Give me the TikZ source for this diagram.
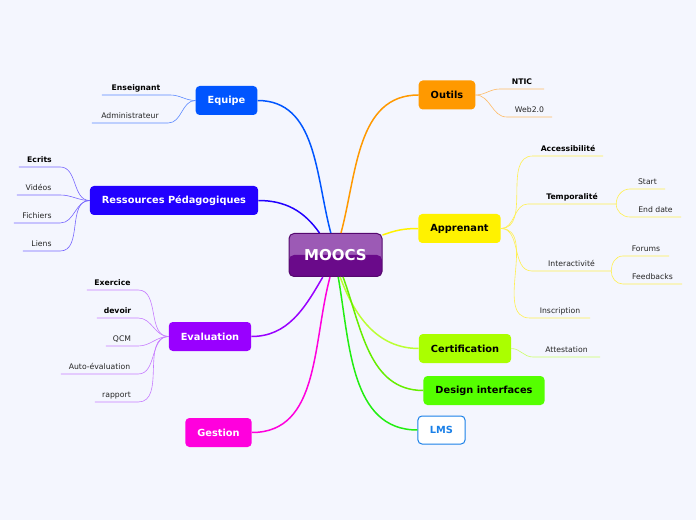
\documentclass[tikz,border=0pt]{standalone}
\usepackage{fontspec}
\setmainfont{DejaVu Sans}
\definecolor{bgcol}{HTML}{F4F6FE}
\definecolor{equipecol}{HTML}{0055FF}
\definecolor{equipeleaf}{HTML}{5A88FF}
\definecolor{rescol}{HTML}{2200FF}
\definecolor{resleaf}{HTML}{7766FF}
\definecolor{evalcol}{HTML}{9900FF}
\definecolor{evalleaf}{HTML}{C77DFF}
\definecolor{gestcol}{HTML}{FF00DD}
\definecolor{outcol}{HTML}{FF9900}
\definecolor{outleaf}{HTML}{FFBB66}
\definecolor{appcol}{HTML}{FFF200}
\definecolor{appleaf}{HTML}{FFF050}
\definecolor{certcol}{HTML}{AAFF00}
\definecolor{certline}{HTML}{BBFF33}
\definecolor{certleaf}{HTML}{CCFF66}
\definecolor{designcol}{HTML}{55FF00}
\definecolor{designline}{HTML}{66EE00}
\definecolor{lmscol}{HTML}{1A80E8}
\definecolor{lmsline}{HTML}{22EE11}
\definecolor{mooctop}{HTML}{9C5AB5}
\definecolor{mooclow}{HTML}{6A0A8A}
\definecolor{moocrim}{HTML}{55086F}
\begin{document}
\begin{tikzpicture}[x=1pt,y=1pt,
  topic/.style={rounded corners=4pt,minimum height=29pt,inner xsep=12pt,font=\fontsize{9.8}{11}\selectfont\bfseries,text=white},
  leaf/.style={anchor=south,inner xsep=0pt,inner ysep=3pt,text height=5.8pt,text depth=1.6pt,font=\fontsize{7.7}{9}\selectfont,text=black!85},
  bleaf/.style={leaf,font=\fontsize{7.7}{9}\selectfont\bfseries,text=black},
  branch/.style={line width=1.5pt},
  twig/.style={line width=0.6pt}]
\fill[bgcol] (0,0) rectangle (696,520);
% centre
\node[draw=moocrim,line width=1pt,fill=mooctop,rounded corners=5pt,minimum width=93pt,minimum height=43pt,
  font=\fontsize{15}{17}\selectfont\bfseries,text=white,
  path picture={\fill[mooclow] (path picture bounding box.west) rectangle (path picture bounding box.south east);}]
  (moocs) at (335.5,265) {MOOCS};
% topics
\node[topic,fill=equipecol] (equipe) at (226.5,419.5) {Equipe};
\node[topic,fill=rescol] (ressources) at (174,319.5) {Ressources Pédagogiques};
\node[topic,fill=evalcol] (evaluation) at (210,183.5) {Evaluation};
\node[topic,fill=gestcol] (gestion) at (218.5,87.5) {Gestion};
\node[topic,fill=outcol,text=black] (outils) at (447,425) {Outils};
\node[topic,fill=appcol,text=black] (apprenant) at (459.5,291.5) {Apprenant};
\node[topic,fill=certcol,text=black] (certif) at (465,171.5) {Certification};
\node[topic,fill=designcol,text=black] (design) at (484,129.5) {Design interfaces};
\node[topic,fill=white,draw=lmscol,line width=1pt,text=lmscol,minimum height=28pt] (lms) at (441.5,90) {LMS};
\draw[branch,equipecol] (moocs.102) to[out=105,in=0] (equipe.east);
\draw[branch,rescol] (moocs.126) to[out=125,in=0] (ressources.east);
\draw[branch,outcol] (moocs.76) to[out=75,in=180] (outils.west);
\draw[branch,appcol] (moocs.23) to[out=20,in=180] (apprenant.west);
\draw[branch,evalcol] (moocs.240) to[out=240,in=0] (evaluation.east);
\draw[branch,gestcol] (moocs.256) to[out=255,in=0] (gestion.east);
\draw[branch,certline] (moocs.282) to[out=290,in=180] (certif.west);
\draw[branch,designline] (moocs.289) to[out=290,in=180] (design.west);
\draw[branch,lmsline] (moocs.277) to[out=280,in=180] (lms.west);
% Equipe
\node[bleaf,minimum width=68pt] (ens) at (136,425) {Enseignant};
\node[leaf,minimum width=76pt] (admin) at (130,397) {Administrateur};
\foreach \n in {ens,admin}
  \draw[twig,equipeleaf] (equipe.west) to[out=180,in=0] (\n.south east) -- (\n.south west);
% Ressources
\node[bleaf,minimum width=41pt] (ecrits) at (39.5,353) {Ecrits};
\node[leaf,minimum width=43pt] (videos) at (38.5,325) {Vidéos};
\node[leaf,minimum width=46pt] (fichiers) at (37,297) {Fichiers};
\node[leaf,minimum width=37pt] (liens) at (41.5,269) {Liens};
\foreach \n in {ecrits,videos,fichiers,liens}
  \draw[twig,resleaf] (ressources.west) to[out=180,in=0] (\n.south east) -- (\n.south west);
% Evaluation
\node[bleaf,minimum width=51pt] (exercice) at (112.5,230) {Exercice};
\node[bleaf,minimum width=41pt] (devoir) at (117.5,202) {devoir};
\node[leaf,minimum width=32pt] (qcm) at (122,174) {QCM};
\node[leaf,minimum width=77pt] (autoeval) at (99.5,146) {Auto-évaluation};
\node[leaf,minimum width=43pt] (rapport) at (116.5,118) {rapport};
\foreach \n in {exercice,devoir,qcm,autoeval,rapport}
  \draw[twig,evalleaf] (evaluation.west) to[out=180,in=0] (\n.south east) -- (\n.south west);
% Outils
\node[bleaf,minimum width=44pt] (ntic) at (522,431) {NTIC};
\node[leaf,minimum width=45pt] (web) at (529.5,403) {Web2.0};
\foreach \n in {ntic,web}
  \draw[twig,outleaf] (outils.east) to[out=0,in=180] (\n.south west) -- (\n.south east);
% Apprenant
\node[bleaf,minimum width=70pt] (access) at (568,364) {Accessibilité};
\node[bleaf,minimum width=88pt] (temp) at (572,316) {Temporalité};
\node[leaf,minimum width=79pt] (interact) at (571.5,249) {Interactivité};
\node[leaf,minimum width=60pt] (inscr) at (560,202) {Inscription};
\foreach \n in {access,temp,interact,inscr}
  \draw[twig,appleaf] (apprenant.east) to[out=0,in=180] (\n.south west) -- (\n.south east);
\node[leaf,minimum width=35pt] (start) at (647.5,331) {Start};
\node[leaf,minimum width=51pt] (enddate) at (655.5,303) {End date};
\draw[twig,appleaf] (temp.south east) to[out=90,in=180] (start.south west) -- (start.south east);
\draw[twig,appleaf] (temp.south east) to[out=270,in=180] (enddate.south west) -- (enddate.south east);
\node[leaf,minimum width=46pt] (forums) at (646,264) {Forums};
\node[leaf,minimum width=59pt] (feedbacks) at (652.5,236) {Feedbacks};
\draw[twig,appleaf] (interact.south east) to[out=90,in=180] (forums.south west) -- (forums.south east);
\draw[twig,appleaf] (interact.south east) to[out=270,in=180] (feedbacks.south west) -- (feedbacks.south east);
% Certification
\node[leaf,minimum width=67pt] (attest) at (566.5,163) {Attestation};
\draw[twig,certleaf] (certif.east) to[out=0,in=180] (attest.south west) -- (attest.south east);
\end{tikzpicture}
\end{document}
